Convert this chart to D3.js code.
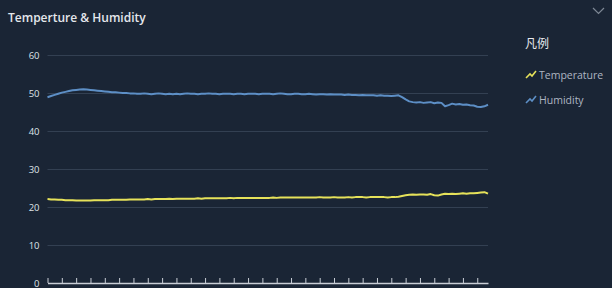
<!DOCTYPE html>
<html>
<head>
<meta charset="utf-8">
<script src="https://cdn.jsdelivr.net/npm/d3@7"></script>
<style>
  html, body { margin: 0; padding: 0; background: #1a2535; }
  #chart { width: 612px; height: 288px; }
  text { font-family: "Open Sans", "Noto Sans", sans-serif; }
  .chart-title { fill: #e4e7ec; font-size: 12px; font-weight: 600; }
  .legend-title { fill: #e8ebef; font-size: 12px; font-family: "Noto Sans CJK SC", sans-serif; }
  .legend-item { fill: #aeb6c2; font-size: 10.5px; }
  .y-axis text { fill: #dfe3e8; font-size: 9.5px; }
  .grid-line { stroke: #334052; stroke-width: 1; }
  .x-axis path, .x-axis line { stroke: #c9ced6; }
</style>
</head>
<body>
<div id="chart"></div>
<script>
// --- Temperature & humidity readings, one value per sample ---

const humidity = [
  48.9, 49.2, 49.5, 49.8, 50.1, 50.3, 50.5, 50.7, 50.8, 50.9, 51.0, 50.9,
  50.8, 50.7, 50.6, 50.5, 50.4, 50.3, 50.2, 50.2, 50.1, 50.0, 50.0, 49.9, 49.9, 49.8,
  49.8, 49.9, 49.8, 49.7, 49.8, 49.9, 49.8, 49.7, 49.8, 49.7, 49.8, 49.7, 49.8, 49.9, 49.8,
  49.8, 49.7, 49.8, 49.8, 49.9, 49.8, 49.8, 49.7, 49.8, 49.8, 49.8, 49.7, 49.8, 49.8, 49.7, 49.8, 49.8, 49.8, 49.7, 49.8,
  49.8, 49.8, 49.7, 49.8, 49.9, 49.8, 49.7, 49.7, 49.8, 49.8, 49.7, 49.7, 49.8, 49.7, 49.6, 49.7, 49.7, 49.6, 49.7, 49.6, 49.6, 49.6,
  49.5, 49.6, 49.5, 49.5, 49.4, 49.5, 49.4, 49.4, 49.4, 49.3, 49.4, 49.3, 49.3, 49.2, 49.3, 49.4, 48.9,
  48.3, 47.8, 47.6, 47.5, 47.6, 47.4, 47.5, 47.6, 47.3, 47.5, 47.4, 46.5, 46.8, 47.2, 47.0, 47.1, 46.9, 47.0, 46.8, 46.7, 46.4, 46.3, 46.5, 46.9
];

const temperature = [
  22.1, 22.0, 22.0, 21.9, 21.9, 21.8, 21.8, 21.8, 21.7, 21.7, 21.7, 21.7,
  21.7, 21.8, 21.8, 21.8, 21.8, 21.8, 21.9, 21.9, 21.9, 21.9, 21.9, 22.0, 22.0, 22.0,
  22.0, 22.0, 22.1, 22.0, 22.1, 22.1, 22.1, 22.1, 22.2, 22.1, 22.2, 22.2, 22.2, 22.2, 22.2,
  22.2, 22.3, 22.2, 22.3, 22.3, 22.3, 22.3, 22.3, 22.3, 22.3, 22.4, 22.3, 22.4, 22.4, 22.4, 22.4, 22.4, 22.4, 22.4, 22.4,
  22.4, 22.4, 22.5, 22.4, 22.5, 22.5, 22.5, 22.5, 22.5, 22.5, 22.5, 22.5, 22.5, 22.5, 22.5, 22.6, 22.5, 22.5, 22.5, 22.6, 22.5, 22.5,
  22.5, 22.6, 22.5, 22.6, 22.6, 22.6, 22.5, 22.6, 22.6, 22.6, 22.6, 22.6, 22.5, 22.6, 22.6, 22.7, 22.9,
  23.1, 23.2, 23.3, 23.2, 23.3, 23.3, 23.2, 23.4, 23.1, 23.0, 23.3, 23.5, 23.4, 23.5, 23.4, 23.5, 23.6, 23.5, 23.6, 23.6, 23.7, 23.8, 23.9, 23.5
];

const yTicks = [0, 10, 20, 30, 40, 50, 60];
const seriesNames = ['Temperature', 'Humidity'];
const seriesColors = ['#e6e25a', '#5d8fc6'];
const tickEvery = 4; // one x-axis tick per 4 samples

const W = 612, H = 288;
const margin = { top: 55, right: 124, bottom: 5, left: 47.5 };
const width = W - margin.left - margin.right;
const height = H - margin.top - margin.bottom;

const svg = d3.select('#chart').append('svg')
  .attr('width', W)
  .attr('height', H);

svg.append('text')
  .attr('class', 'chart-title')
  .attr('x', 8).attr('y', 22)
  .text('Temperture & Humidity');

// collapse chevron, top right
svg.append('path')
  .attr('d', 'M593,8 L598.5,13.5 L604,8')
  .attr('fill', 'none')
  .attr('stroke', '#7d8794')
  .attr('stroke-width', 1.2);

const chartInner = svg.append('g')
  .attr('transform', `translate(${margin.left},${margin.top})`);

const idx = d3.range(humidity.length);
const xScale = d3.scaleLinear().domain([0, humidity.length - 1]).range([0, width]);
const yScale = d3.scaleLinear().domain([0, 60]).range([height, 0]);

// horizontal grid
chartInner.selectAll('.grid-line')
  .data(yTicks.filter(t => t > 0))
  .enter().append('line')
  .attr('class', 'grid-line')
  .attr('x1', 0).attr('x2', width)
  .attr('y1', d => Math.round(yScale(d)) + 0.5)
  .attr('y2', d => Math.round(yScale(d)) + 0.5);

const yAxis = chartInner.append('g')
  .attr('class', 'y-axis')
  .call(d3.axisLeft(yScale).tickValues(yTicks).tickSize(0).tickPadding(8));
yAxis.select('.domain').remove();

const xAxis = chartInner.append('g')
  .attr('class', 'x-axis')
  .attr('transform', `translate(0,${height})`)
  .call(d3.axisBottom(xScale)
    .tickValues(idx.filter(i => i % tickEvery === 0))
    .tickSizeInner(-5).tickSizeOuter(0)
    .tickFormat(''));
xAxis.select('.domain').attr('stroke-width', 1.5);

const lineGen = d3.line()
  .x((d, i) => xScale(i))
  .y(d => yScale(d));

[temperature, humidity].forEach((data, k) => {
  chartInner.append('path')
    .datum(data)
    .attr('fill', 'none')
    .attr('stroke', seriesColors[k])
    .attr('stroke-width', 2)
    .attr('stroke-linejoin', 'round')
    .attr('d', lineGen);
});

// legend
const legend = svg.append('g').attr('transform', 'translate(525,0)');
legend.append('text')
  .attr('class', 'legend-title')
  .attr('x', 0).attr('y', 48)
  .text('凡例');

seriesNames.forEach((name, k) => {
  const y = 79 + k * 25;
  legend.append('path')
    .attr('d', `M1,${y - 1} L5,${y - 5} L7,${y - 3} L11,${y - 8}`)
    .attr('fill', 'none')
    .attr('stroke', seriesColors[k])
    .attr('stroke-width', 1.6);
  legend.append('text')
    .attr('class', 'legend-item')
    .attr('x', 14).attr('y', y)
    .text(name);
});
</script>
</body>
</html>
